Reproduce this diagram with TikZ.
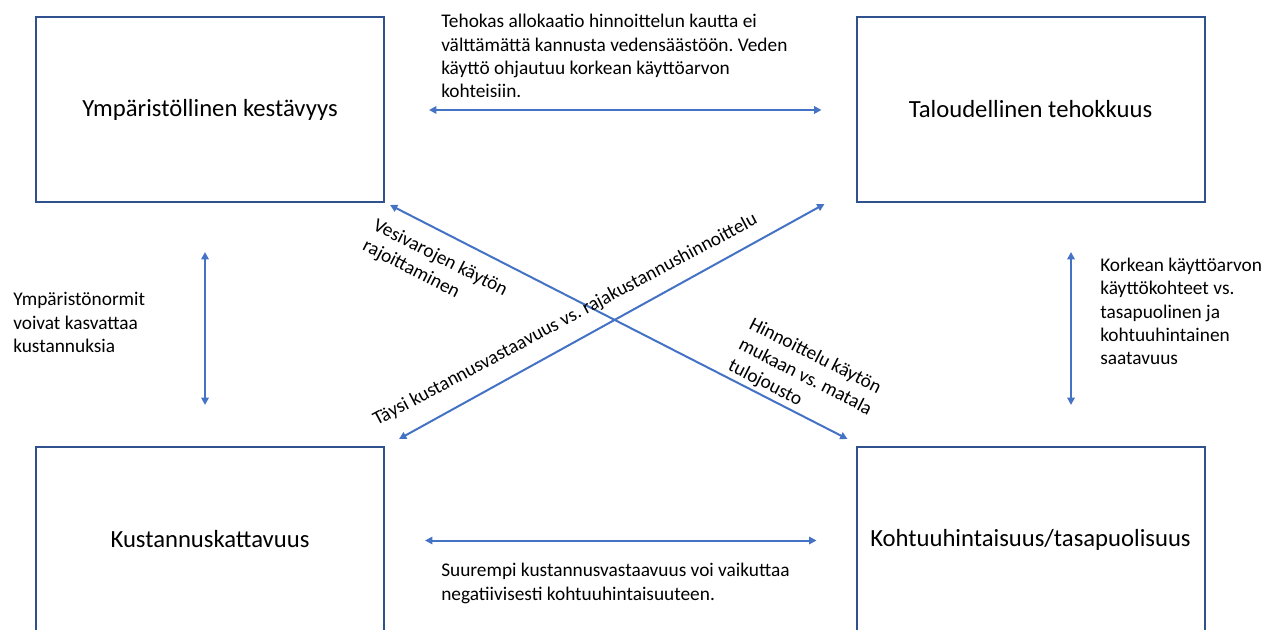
\documentclass[tikz,border=0pt]{standalone}
\usepackage{fontspec}
\setmainfont{Carlito}
\usetikzlibrary{arrows.meta,calc}
\definecolor{boxblue}{HTML}{2F528F}
\definecolor{arrowblue}{HTML}{4472C4}
\frenchspacing
\begin{document}
\begin{tikzpicture}[x=0.75pt,y=-0.75pt,
  goal/.style={draw=boxblue,line width=1.5pt,minimum width=261pt,minimum height=138.75pt,inner sep=0pt,font=\fontsize{18.5}{22}\selectfont},
  note/.style={align=left,inner sep=0pt,font=\fontsize{14.5}{17.5}\selectfont},
  link/.style={draw=arrowblue,line width=1.5pt,{Triangle[width=5.5pt,length=5.5pt]}-{Triangle[width=5.5pt,length=5.5pt]}}]
\clip (0,0) rectangle (1266,630);

\node[goal] (env) at (210,109.5) {Ympäristöllinen kestävyys};
\node[goal] (eff) at (1030.5,109.5) {Taloudellinen tehokkuus};
\node[goal] (cost) at (210,539.5) {Kustannuskattavuus};
\node[goal] (fair) at (1030.5,539.5) {Kohtuuhintaisuus/tasapuolisuus};

\draw[link] ($(env.east)+(44,0.5)$) -- ($(eff.west)+(-34,0.5)$);
\draw[link] ($(cost.east)+(40,1)$) -- ($(fair.west)+(-39,1)$);
\draw[link] ($(env.south)+(-5,49)$) -- ($(cost.north)+(-5,-41)$);
\draw[link] ($(eff.south)+(40.5,49)$) -- ($(fair.north)+(40.5,-41)$);
\draw[link] ($(env.south east)+(5,2)$) -- ($(fair.north west)+(-8,-7)$);
\draw[link] ($(cost.north east)+(14,-7)$) -- ($(eff.south west)+(-31,1)$);

\node[note,anchor=base west] (topnote) at (441,98) {Tehokas allokaatio hinnoittelun kautta ei\\välttämättä kannusta vedensäästöön. Veden\\käyttö ohjautuu korkean käyttöarvon\\kohteisiin.};
\node[note,anchor=base west] (leftnote) at (13,352.6) {Ympäristönormit\\voivat kasvattaa\\kustannuksia};
\node[note,anchor=base west] (rightnote) at (1100,365) {Korkean käyttöarvon\\käyttökohteet vs.\\tasapuolinen ja\\kohtuuhintainen\\saatavuus};
\node[note,anchor=base west] (bottomnote) at (441,600) {Suurempi kustannusvastaavuus voi vaikuttaa\\negatiivisesti kohtuuhintaisuuteen.};

\node[note,anchor=base west,rotate=28] (fullnote) at (377,426) {Täysi kustannusvastaavuus vs. rajakustannushinnoittelu};
\node[note,anchor=base west,rotate=-27] (limitnote) at (361.4,249.8) {Vesivarojen käytön\\rajoittaminen};
\node[note,anchor=base west,rotate=-27] (pricenote) at (726.8,369.5) {Hinnoittelu käytön\\mukaan vs. matala\\tulojousto};
\end{tikzpicture}
\end{document}
